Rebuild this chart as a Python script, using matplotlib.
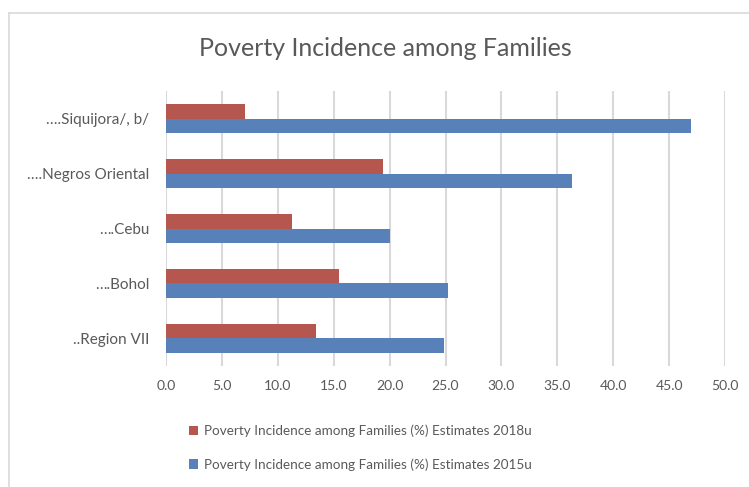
import matplotlib
matplotlib.use("Agg")
from matplotlib import pyplot as plt
from matplotlib.lines import Line2D
import numpy as np

categories = ["..Region VII", "….Bohol", "….Cebu", "….Negros Oriental", "….Siquijora/, b/"]
est_2018 = [13.4, 15.5, 11.3, 19.4, 7.1]
est_2015 = [24.9, 25.2, 20.0, 36.3, 47.0]
xticks = [0, 5, 10, 15, 20, 25, 30, 35, 40, 45, 50]
label_2018 = "Poverty Incidence among Families (%) Estimates 2018u"
label_2015 = "Poverty Incidence among Families (%) Estimates 2015u"

red = "#B5574F"
blue = "#5880B9"
grey_text = "#595959"
grid_col = "#D9D9D9"

plt.rcParams["font.family"] = ["Lato", "DejaVu Sans"]

fig = plt.figure(figsize=(7.49, 4.87), dpi=100)
ax = fig.add_axes([0.2216, 0.2485, 0.968 - 0.2216, 0.8131 - 0.2485])

y = np.arange(len(categories))
h = 0.265
b18 = ax.barh(y + h / 2, est_2018, height=h, color=red, label=label_2018, zorder=3)
b15 = ax.barh(y - h / 2, est_2015, height=h, color=blue, label=label_2015, zorder=3)

ax.set_xlim(0, 50)
ax.set_ylim(-0.5, len(categories) - 0.5)
ax.set_xticks(xticks)
ax.set_xticklabels([f"{v:.1f}" for v in xticks])
ax.set_yticks(y)
ax.set_yticklabels(categories)
ax.tick_params(axis="both", length=0, labelcolor=grey_text)
ax.tick_params(axis="x", pad=10, labelsize=10)
ax.tick_params(axis="y", pad=12, labelsize=11)
ax.grid(axis="x", color=grid_col, linewidth=1.5, zorder=0)
for s in ax.spines.values():
    s.set_visible(False)

fig.text(385 / 749, 1 - 48 / 487, "Poverty Incidence among Families", ha="center", va="center",
         fontsize=18, color=grey_text)

fig.legend(handles=[b18, b15], loc="upper left", bbox_to_anchor=(0.243, 1 - 418 / 487),
           frameon=False, fontsize=9.75, labelcolor=grey_text, handlelength=0.7,
           handleheight=0.7, handletextpad=0.4, labelspacing=1.55, borderpad=0)

# chart frame, cropped at right and bottom
fig.add_artist(Line2D([9 / 749, 9 / 749], [0, 1 - 13 / 487], color=grid_col, linewidth=1.2,
                      transform=fig.transFigure))
fig.add_artist(Line2D([9 / 749, 1], [1 - 13 / 487, 1 - 13 / 487], color=grid_col,
                      linewidth=1.2, transform=fig.transFigure))

fig.savefig("out.png", dpi=100)
